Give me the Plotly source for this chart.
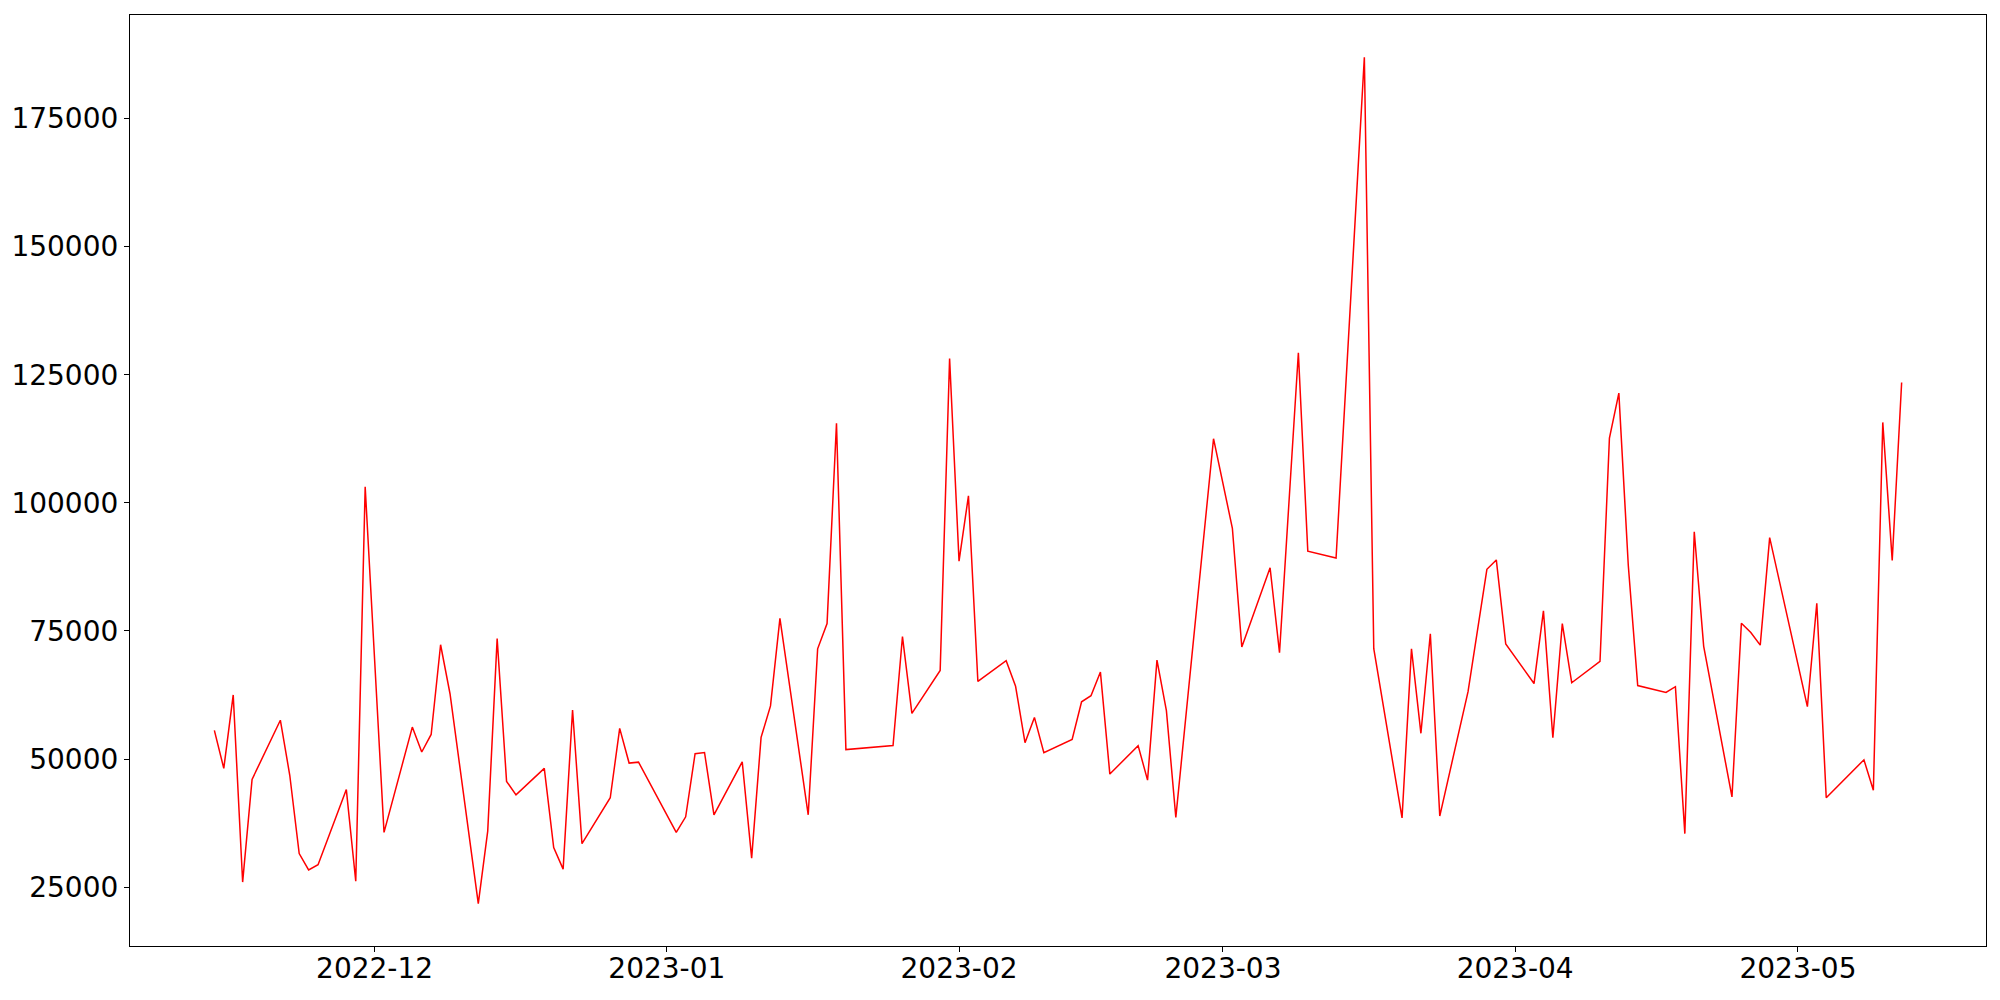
import pandas as pd
import plotly.graph_objects as go

dates = [
    "2022-11-14", "2022-11-15", "2022-11-16", "2022-11-17", "2022-11-18",
    "2022-11-21", "2022-11-22", "2022-11-23", "2022-11-24", "2022-11-25",
    "2022-11-28", "2022-11-29", "2022-11-30", "2022-12-02",
    "2022-12-05", "2022-12-06", "2022-12-07", "2022-12-08", "2022-12-09",
    "2022-12-12", "2022-12-13", "2022-12-14", "2022-12-15", "2022-12-16",
    "2022-12-19", "2022-12-20", "2022-12-21", "2022-12-22", "2022-12-23",
    "2022-12-26", "2022-12-27", "2022-12-28", "2022-12-29",
    "2023-01-02", "2023-01-03", "2023-01-04", "2023-01-05", "2023-01-06",
    "2023-01-09", "2023-01-10", "2023-01-11", "2023-01-12", "2023-01-13",
    "2023-01-16", "2023-01-17", "2023-01-18", "2023-01-19", "2023-01-20",
    "2023-01-25", "2023-01-26", "2023-01-27",
    "2023-01-30", "2023-01-31", "2023-02-01", "2023-02-02", "2023-02-03",
    "2023-02-06", "2023-02-07", "2023-02-08", "2023-02-09", "2023-02-10",
    "2023-02-13", "2023-02-14", "2023-02-15", "2023-02-16", "2023-02-17",
    "2023-02-20", "2023-02-21", "2023-02-22", "2023-02-23", "2023-02-24",
    "2023-02-27", "2023-02-28", "2023-03-02", "2023-03-03",
    "2023-03-06", "2023-03-07", "2023-03-09", "2023-03-10",
    "2023-03-13", "2023-03-16", "2023-03-17",
    "2023-03-20", "2023-03-21", "2023-03-22", "2023-03-23", "2023-03-24",
    "2023-03-27", "2023-03-29", "2023-03-30", "2023-03-31",
    "2023-04-03", "2023-04-04", "2023-04-05", "2023-04-06", "2023-04-07",
    "2023-04-10", "2023-04-11", "2023-04-12", "2023-04-13", "2023-04-14",
    "2023-04-17", "2023-04-18", "2023-04-19", "2023-04-20", "2023-04-21",
    "2023-04-24", "2023-04-25", "2023-04-26", "2023-04-27", "2023-04-28",
    "2023-05-02", "2023-05-03", "2023-05-04",
    "2023-05-08", "2023-05-09", "2023-05-10", "2023-05-11", "2023-05-12",
]

values = [
    55600, 48190, 62520, 26000, 46040,
    57580, 46840, 31550, 28370, 29400,
    44050, 26150, 103120, 35690,
    56240, 51380, 54800, 72310, 62750,
    21780, 35940, 73500, 45650, 43020,
    48190, 32740, 28530, 59570, 33480,
    42450, 55990, 49220, 49400,
    35690, 38730, 51050, 51290, 39120,
    49470, 30670, 54230, 60370, 77470,
    39120, 71510, 76440, 115520, 51850,
    52650, 73910, 58930,
    67300, 128170, 88630, 101360, 65150,
    69210, 64200, 53200, 58130, 51230,
    53840, 61170, 62360, 66980, 47070,
    52630, 45900, 69300, 59460, 38630,
    94800, 112520, 95040, 71880,
    87320, 70750, 129300, 90580,
    89230, 186950, 71550,
    38510, 71510, 55030, 74450, 38880,
    63160, 87030, 88860, 72460,
    64740, 78920, 54150, 76440, 64900,
    69050, 112650, 121410, 87830, 64350,
    62990, 64120, 35450, 94360, 72000,
    42630, 76520, 74690, 72230, 93230,
    60220, 80420, 42450,
    49860, 43900, 115700, 88780, 123490,
]

y_ticks = [25000, 50000, 75000, 100000, 125000, 150000, 175000]
x_ticks = ["2022-12-01", "2023-01-01", "2023-02-01", "2023-03-01", "2023-04-01", "2023-05-01"]
x_tick_labels = ["2022-12", "2023-01", "2023-02", "2023-03", "2023-04", "2023-05"]

x = pd.to_datetime(dates)

# matplotlib-like 5% margins
xmin, xmax = x.min(), x.max()
xpad = (xmax - xmin) * 0.05
ymin, ymax = min(values), max(values)
ypad = (ymax - ymin) * 0.05

fig = go.Figure()
fig.add_trace(go.Scatter(
    x=x, y=values, mode="lines",
    line=dict(color="#ff0000", width=1.5),
    showlegend=False,
))

axis_common = dict(
    showgrid=False, zeroline=False, automargin=False,
    showline=True, linecolor="black", linewidth=1.2, mirror=True,
    ticks="outside", ticklen=5, tickwidth=1.2, tickcolor="black",
    tickfont=dict(family="DejaVu Sans", size=28, color="black"),
)

fig.update_xaxes(
    range=[xmin - xpad, xmax + xpad],
    tickvals=pd.to_datetime(x_ticks), ticktext=x_tick_labels,
    ticklabelstandoff=-8,
    **axis_common,
)
fig.update_yaxes(
    range=[ymin - ypad, ymax + ypad],
    tickvals=y_ticks, ticktext=[str(v) for v in y_ticks],
    **axis_common,
)

# page body has an 8px default margin; size/margins compensate for it
fig.update_layout(
    width=1984, height=984,
    margin=dict(l=122, r=6, t=7, b=46),
    paper_bgcolor="white", plot_bgcolor="white",
    font=dict(family="DejaVu Sans", color="black"),
)

fig.write_html("out.html")
